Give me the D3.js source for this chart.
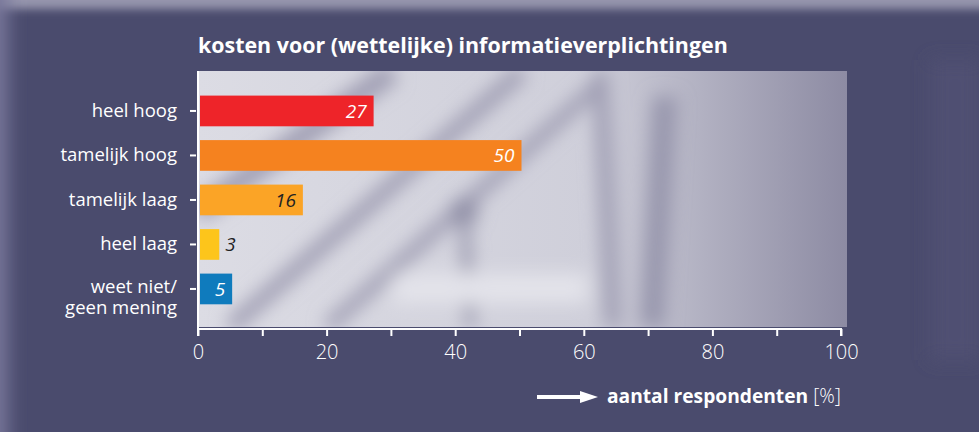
<!DOCTYPE html>
<html>
<head>
<meta charset="utf-8">
<script src="https://cdn.jsdelivr.net/npm/d3@7"></script>
<style>
  body { margin: 0; background: #4a4b6d; }
  svg { display: block; }
  text { font-family: "Open Sans", Lato, sans-serif; }
</style>
</head>
<body>
<div id="chart"></div>
<script>
const categories = ["heel hoog", "tamelijk hoog", "tamelijk laag", "heel laag", "weet niet/|geen mening"]
const values = [27, 50, 16, 3, 5]
const barColors = ["#ee2429", "#f5821f", "#fba426", "#fdc51b", "#0f7bbd"]
const labelColors = ["#ffffff", "#ffffff", "#222222", "#222222", "#ffffff"]
const xTicks = [0, 20, 40, 60, 80, 100]

const W = 979, H = 432
const margin = {top: 71, right: 132, bottom: 105, left: 198}
const width = W - margin.left - margin.right
const height = H - margin.top - margin.bottom

const svg = d3.select("#chart").append("svg")
    .attr("width", W)
    .attr("height", H)

// scale a text's font size so that it spans the given width
function fitWidth(sel, target) {
    const size = parseFloat(sel.style("font-size"))
    const len = sel.node().getComputedTextLength()
    sel.style("font-size", (size * target / len).toFixed(2) + "px")
}

const defs = svg.append("defs")
defs.append("filter").attr("id", "blur").attr("x", "-20%").attr("y", "-20%").attr("width", "140%").attr("height", "140%")
    .append("feGaussianBlur").attr("stdDeviation", 9)
defs.append("filter").attr("id", "blurSmall").attr("x", "-5%").attr("y", "-50%").attr("width", "110%").attr("height", "200%")
    .append("feGaussianBlur").attr("stdDeviation", 4)
defs.append("clipPath").attr("id", "plotclip")
    .append("rect").attr("width", width).attr("height", height)
const grad = defs.append("linearGradient").attr("id", "plotgrad")
grad.append("stop").attr("offset", "0%").attr("stop-color", "#dcdce4")
grad.append("stop").attr("offset", "60%").attr("stop-color", "#cfcfda")
grad.append("stop").attr("offset", "100%").attr("stop-color", "#8d8ba3")

// page background, with blurred lighter strips on top and left edge
svg.append("rect").attr("width", W).attr("height", H).attr("fill", "#4a4b6d")
svg.append("rect").attr("x", -10).attr("y", -10).attr("width", W + 20).attr("height", 19)
    .attr("fill", "#9695ad").attr("filter", "url(#blurSmall)")
const bgDeco = svg.append("g").attr("filter", "url(#blur)")
bgDeco.append("rect").attr("x", -20).attr("y", -20).attr("width", 28).attr("height", H + 40).attr("fill", "#77769a")
bgDeco.append("rect").attr("x", 930).attr("y", 60).attr("width", 50).attr("height", 300).attr("fill", "#504f72")

const g = svg.append("g")
    .attr("transform", `translate(${margin.left},${margin.top})`)

// plot area with blurred photo-like texture
g.append("rect").attr("width", width).attr("height", height).attr("fill", "url(#plotgrad)")
const deco = g.append("g").attr("clip-path", "url(#plotclip)")
    .append("g").attr("filter", "url(#blur)").attr("fill", "none").attr("stroke", "#a09fb4")
deco.append("path").attr("d", `M0,${height * 0.55} L${width * 0.3},0`).attr("stroke-width", 22)
deco.append("path").attr("d", `M${width * 0.05},${height} L${width * 0.5},0`).attr("stroke-width", 16)
deco.append("path").attr("d", `M${width * 0.2},${height} L${width * 0.62},${height * 0.05}`).attr("stroke-width", 14)
deco.append("path").attr("d", `M${width * 0.62},0 L${width * 0.64},${height}`).attr("stroke-width", 16)
deco.append("path").attr("d", `M${width * 0.72},${height * 0.1} L${width * 0.7},${height}`).attr("stroke-width", 24).attr("stroke", "#9897ad")
deco.append("circle").attr("cx", width * 0.41).attr("cy", height * 0.55).attr("r", 14).attr("fill", "#8f8ea6").attr("stroke", "none")
deco.append("path").attr("d", `M${width * 0.41},${height * 0.55} L${width * 0.42},${height}`).attr("stroke-width", 10).attr("stroke", "#9695ab")
deco.append("path").attr("d", `M${width * 0.3},${height * 0.85} L${width * 0.6},${height * 0.85}`).attr("stroke-width", 30).attr("stroke", "#e3e3ea")

const x = d3.scaleLinear().domain([0, 100]).range([0, width - 6])
const y = d3.scaleBand().domain(categories).range([17.7, 240.2]).paddingInner(0.31).paddingOuter(0.155)

// bars
g.selectAll(".bar")
    .data(values)
    .join("rect")
    .attr("class", "bar")
    .attr("x", x(0) + 2)
    .attr("y", (d, i) => y(categories[i]))
    .attr("width", d => x(d))
    .attr("height", y.bandwidth())
    .attr("fill", (d, i) => barColors[i])

// value labels
g.selectAll(".val")
    .data(values)
    .join("text")
    .attr("class", "val")
    .attr("x", d => d < 5 ? x(d) + 8 : x(d) - 5)
    .attr("y", (d, i) => y(categories[i]) + y.bandwidth() / 2)
    .attr("dy", "0.36em")
    .attr("text-anchor", d => d < 5 ? "start" : "end")
    .attr("fill", (d, i) => labelColors[i])
    .style("font-style", "italic")
    .style("font-size", "19px")
    .text(d => d)

// axes
const xAxis = g.append("g")
    .attr("transform", `translate(0,${height + 2})`)
    .call(d3.axisBottom(x).tickValues(d3.range(0, 101, 10)).tickSize(7).tickFormat(d => xTicks.includes(d) ? d : ""))
xAxis.select(".domain").attr("stroke", "#fff").attr("stroke-width", 2).attr("d", `M0,7V0H${x(100)}V7`)
xAxis.selectAll(".tick line").attr("stroke", "#fff").attr("stroke-width", 2)
xAxis.selectAll(".tick text").attr("fill", "#fff").style("font-size", "20px").attr("dy", "1.0em")
    .style("font-family", "'Open Sans', sans-serif").style("font-weight", 300)

const yAxis = g.append("g")
    .call(d3.axisLeft(y).tickSize(6).tickFormat(""))
yAxis.select(".domain").attr("stroke", "#fff").attr("stroke-width", 2).attr("d", `M0,0V${height + 2}`)
yAxis.selectAll(".tick line").attr("stroke", "#fff").attr("stroke-width", 2).attr("x1", -2).attr("x2", -8)

// category labels, split on "|"
const catLabels = g.selectAll(".cat")
    .data(categories)
    .join("text")
    .attr("class", "cat")
    .attr("x", -21)
    .attr("y", d => y(d) + y.bandwidth() / 2)
    .attr("text-anchor", "end")
    .attr("fill", "#fff")
    .style("font-size", "18.5px")
    .style("font-weight", 400)
catLabels.each(function(d) {
    const parts = d.split("|")
    const t = d3.select(this)
    parts.forEach((p, k) => {
        t.append("tspan")
            .attr("x", -21)
            .attr("dy", k === 0 ? (parts.length > 1 ? "0.2em" : "0.3em") : "1.15em")
            .text(p)
    })
})

// title
const title = svg.append("text")
    .attr("x", margin.left)
    .attr("y", 53)
    .attr("fill", "#fff")
    .style("font-size", "20px")
    .style("font-weight", "bold")
    .text("kosten voor (wettelijke) informatieverplichtingen")
fitWidth(title, 530)

// x axis title with arrow
const at = svg.append("g").attr("transform", `translate(0,397)`)
at.append("line").attr("x1", 537).attr("x2", 585).attr("stroke", "#fff").attr("stroke-width", 4)
at.append("path").attr("d", "M580,-6L598,0L580,6Z").attr("fill", "#fff")
const tt = at.append("text").attr("x", 607).attr("y", 6).attr("fill", "#fff").style("font-size", "18px")
tt.append("tspan").style("font-weight", "bold").text("aantal respondenten ")
tt.append("tspan").style("font-weight", 300).text("[%]")
fitWidth(tt, 234)
</script>
</body>
</html>
